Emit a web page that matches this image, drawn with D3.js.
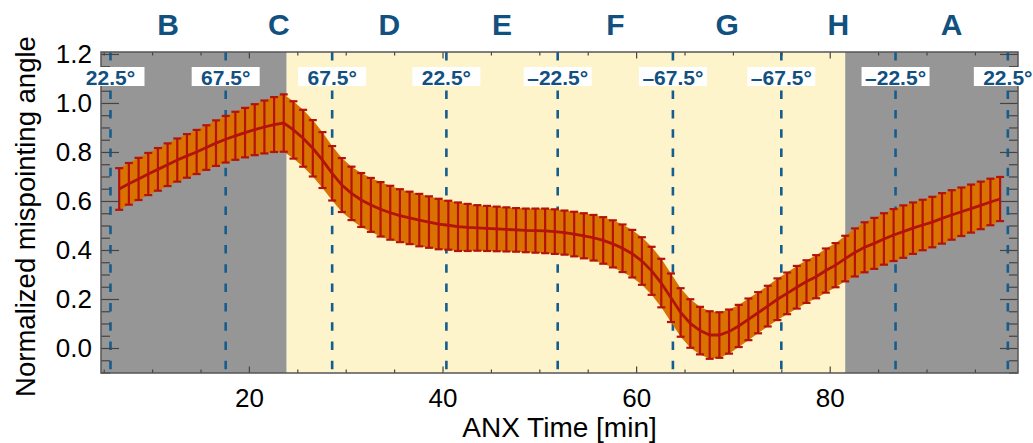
<!DOCTYPE html>
<html>
<head>
<meta charset="utf-8">
<script src="https://cdn.jsdelivr.net/npm/d3@7"></script>
<style>
  body { margin: 0; background: #fff; }
  svg { display: block; font-family: "Liberation Sans", Arial, Helvetica, sans-serif; }
</style>
</head>
<body>
<div id="chart"></div>
<script>
// sample times [min]
const times = [
  6.6, 7.6, 8.6, 9.6, 10.6, 11.6, 12.6, 13.6, 14.6, 15.6, 16.6, 17.6, 18.6, 19.6, 20.6, 21.6, 22.6, 23.6,
  24.6, 25.6, 26.6, 27.6, 28.6, 29.6, 30.6, 31.6, 32.6, 33.6, 34.6, 35.6, 36.6, 37.6, 38.6, 39.6, 40.6, 41.6, 42.6, 43.6, 44.6, 45.6,
  46.6, 47.6, 48.6, 49.6, 50.6, 51.6, 52.6, 53.6, 54.6, 55.6, 56.6, 57.6, 58.6, 59.6, 60.6, 61.6, 62.6, 63.6,
  64.6, 65.6, 66.6, 67.6, 68.6, 69.6, 70.6, 71.6, 72.6, 73.6, 74.6, 75.6, 76.6, 77.6, 78.6, 79.6, 80.6, 81.6,
  82.6, 83.6, 84.6, 85.6, 86.6, 87.6, 88.6, 89.6, 90.6, 91.6, 92.6, 93.6, 94.6, 95.6, 96.6, 97.6
];
const meanVals = [
  0.649, 0.670, 0.690, 0.710, 0.729, 0.748, 0.767, 0.784, 0.800, 0.818, 0.836, 0.852, 0.866, 0.879, 0.891, 0.902, 0.912, 0.918,
  0.890, 0.856, 0.815, 0.767, 0.713, 0.665, 0.631, 0.604, 0.584, 0.566, 0.552, 0.540, 0.531, 0.522, 0.514, 0.506, 0.501, 0.495, 0.492, 0.490, 0.488, 0.486,
  0.484, 0.482, 0.480, 0.479, 0.478, 0.475, 0.471, 0.465, 0.458, 0.450, 0.439, 0.425, 0.407, 0.385, 0.355, 0.315, 0.265, 0.205,
  0.145, 0.100, 0.071, 0.053, 0.053, 0.067, 0.090, 0.117, 0.144, 0.171, 0.199, 0.223, 0.248, 0.271, 0.291, 0.316, 0.338, 0.365,
  0.390, 0.411, 0.427, 0.445, 0.461, 0.475, 0.489, 0.502, 0.514, 0.529, 0.543, 0.556, 0.569, 0.582, 0.596, 0.608
];
const errVals = [
  0.085, 0.085, 0.086, 0.086, 0.087, 0.087, 0.088, 0.089, 0.090, 0.091, 0.093, 0.095, 0.098, 0.101, 0.104, 0.108, 0.112, 0.117,
  0.117, 0.116, 0.115, 0.114, 0.111, 0.110, 0.109, 0.110, 0.110, 0.111, 0.110, 0.108, 0.107, 0.107, 0.105, 0.103, 0.100, 0.099, 0.096, 0.093, 0.092, 0.091,
  0.090, 0.089, 0.089, 0.090, 0.091, 0.091, 0.090, 0.091, 0.092, 0.093, 0.095, 0.096, 0.097, 0.097, 0.097, 0.098, 0.099, 0.099,
  0.099, 0.099, 0.097, 0.097, 0.093, 0.090, 0.086, 0.085, 0.084, 0.083, 0.085, 0.085, 0.087, 0.087, 0.088, 0.090, 0.090, 0.093,
  0.098, 0.102, 0.104, 0.105, 0.106, 0.107, 0.105, 0.103, 0.103, 0.103, 0.101, 0.099, 0.098, 0.097, 0.095, 0.090
];

// eclipse (gray) and sunlit (yellow) spans
const shadeSpans = [[null, 23.9, "gray"], [23.9, 81.6, "sun"], [81.6, null, "gray"]];
// attitude lines and labels
const attTimes = [5.7, 17.6, 28.6, 40.4, 51.9, 63.8, 75.0, 86.8, 98.4];
const attLabels = ["22.5°", "67.5°", "67.5°", "22.5°", "\u201322.5°", "\u201367.5°", "\u201367.5°", "\u201322.5°", "22.5°"];
const sectorLetters = ["B", "C", "D", "E", "F", "G", "H", "A"];

const xMajor = [20, 40, 60, 80];
const xMinor = [5, 10, 15, 25, 30, 35, 45, 50, 55, 65, 70, 75, 85, 90, 95];
const yMajor = [0, 0.2, 0.4, 0.6, 0.8, 1.0, 1.2];
const yMinor = [-0.1, -0.05, 0.05, 0.1, 0.15, 0.25, 0.3, 0.35, 0.45, 0.5, 0.55, 0.65, 0.7, 0.75, 0.85, 0.9, 0.95, 1.05, 1.1, 1.15];

const W = 1033, H = 443;
const L = 101, R = 1018, T = 52, B = 373;
const blue = "#12507f", dashBlue = "#155d8e";
const gray = "#969696", sun = "#fdf4cc", orange = "#d97200", red = "#b3130b";

const svg = d3.select("#chart").append("svg").attr("width", W).attr("height", H);

const x = d3.scaleLinear().domain([4.72, 99.45]).range([L, R]);
const y = d3.scaleLinear().domain([-0.102, 1.208]).range([B, T]);
const [x0, x1] = x.domain();

const data = times.map((t, i) => ({ t, m: meanVals[i], e: errVals[i] }));

// background spans
svg.append("g").selectAll("rect")
  .data(shadeSpans)
  .join("rect")
  .attr("x", d => x(d[0] === null ? x0 : d[0]))
  .attr("width", d => x(d[1] === null ? x1 : d[1]) - x(d[0] === null ? x0 : d[0]))
  .attr("y", T)
  .attr("height", B - T)
  .attr("fill", d => d[2] === "gray" ? gray : sun);

// dashed attitude lines
svg.append("g").selectAll("line")
  .data(attTimes)
  .join("line")
  .attr("x1", d => x(d)).attr("x2", d => x(d))
  .attr("y1", T).attr("y2", B)
  .attr("stroke", dashBlue)
  .attr("stroke-width", 2.6)
  .attr("stroke-dasharray", "8.5,10.8");

// error band
const area = d3.area()
  .x(d => x(d.t))
  .y0(d => y(d.m - d.e))
  .y1(d => y(d.m + d.e));
svg.append("path").datum(data)
  .attr("d", area)
  .attr("fill", orange);

// error bars
const bars = svg.append("g").attr("stroke", red).attr("stroke-width", 2.2);
bars.selectAll(".v").data(data).join("line")
  .attr("x1", d => x(d.t)).attr("x2", d => x(d.t))
  .attr("y1", d => y(d.m - d.e)).attr("y2", d => y(d.m + d.e));
bars.selectAll(".cu").data(data).join("line")
  .attr("x1", d => x(d.t) - 4).attr("x2", d => x(d.t) + 4)
  .attr("y1", d => y(d.m + d.e)).attr("y2", d => y(d.m + d.e));
bars.selectAll(".cl").data(data).join("line")
  .attr("x1", d => x(d.t) - 4).attr("x2", d => x(d.t) + 4)
  .attr("y1", d => y(d.m - d.e)).attr("y2", d => y(d.m - d.e));

// mean curve
svg.append("path").datum(data)
  .attr("d", d3.line().x(d => x(d.t)).y(d => y(d.m)))
  .attr("fill", "none")
  .attr("stroke", red)
  .attr("stroke-width", 2.8);

// frame and ticks
const tickCol = "#444";
function styleAxis(g) {
  g.select(".domain").remove();
  g.selectAll(".tick line").attr("stroke", tickCol).attr("stroke-width", 1.2);
  g.selectAll("text").attr("fill", "#000").attr("font-size", 26).attr("font-family", null);
}
svg.append("g").attr("transform", `translate(0,${B})`)
  .call(d3.axisBottom(x).tickValues(xMajor).tickSize(-6.5).tickPadding(16).tickFormat(d3.format("d"))).call(styleAxis);
svg.append("g").attr("transform", `translate(0,${B})`)
  .call(d3.axisBottom(x).tickValues(xMinor).tickSize(-3.5).tickFormat("")).call(styleAxis);
svg.append("g").attr("transform", `translate(0,${T})`)
  .call(d3.axisTop(x).tickValues(xMajor).tickSize(-6.5).tickFormat("")).call(styleAxis);
svg.append("g").attr("transform", `translate(0,${T})`)
  .call(d3.axisTop(x).tickValues(xMinor).tickSize(-3.5).tickFormat("")).call(styleAxis);
svg.append("g").attr("transform", `translate(${L},0)`)
  .call(d3.axisLeft(y).tickValues(yMajor).tickSize(-18).tickPadding(9).tickFormat(d3.format(".1f"))).call(styleAxis);
svg.append("g").attr("transform", `translate(${L},0)`)
  .call(d3.axisLeft(y).tickValues(yMinor).tickSize(-9).tickFormat("")).call(styleAxis);
svg.append("g").attr("transform", `translate(${R},0)`)
  .call(d3.axisRight(y).tickValues(yMajor).tickSize(-18).tickFormat("")).call(styleAxis);
svg.append("g").attr("transform", `translate(${R},0)`)
  .call(d3.axisRight(y).tickValues(yMinor).tickSize(-9).tickFormat("")).call(styleAxis);

svg.append("rect")
  .attr("x", L).attr("y", T).attr("width", R - L).attr("height", B - T)
  .attr("fill", "none").attr("stroke", "#555").attr("stroke-width", 1.5);

// attitude label boxes
const lab = svg.append("g").selectAll("g")
  .data(attTimes.map((t, i) => ({ t, s: attLabels[i] })))
  .join("g")
  .attr("transform", d => `translate(${x(d.t)},0)`);
lab.append("rect")
  .attr("x", -34).attr("y", 67).attr("width", 68).attr("height", 19)
  .attr("fill", "#fff");
lab.append("text")
  .attr("y", 84.5)
  .attr("text-anchor", "middle")
  .attr("font-size", 21)
  .attr("font-weight", "bold")
  .attr("fill", blue)
  .text(d => d.s);

// sector letters, centred between attitude lines
svg.append("g").selectAll("text")
  .data(sectorLetters.map((s, i) => ({ s, t: (attTimes[i] + attTimes[i + 1]) / 2 })))
  .join("text")
  .attr("x", d => x(d.t))
  .attr("y", 35)
  .attr("text-anchor", "middle")
  .attr("font-size", 30)
  .attr("font-weight", "bold")
  .attr("fill", blue)
  .text(d => d.s);

// axis titles
svg.append("text")
  .attr("x", (L + R) / 2).attr("y", 437)
  .attr("text-anchor", "middle")
  .attr("font-size", 28)
  .text("ANX Time [min]");
svg.append("text")
  .attr("transform", `translate(35,${(T + B) / 2 + 4}) rotate(-90)`)
  .attr("text-anchor", "middle")
  .attr("font-size", 27.5)
  .text("Normalized mispointing angle");
</script>
</body>
</html>
